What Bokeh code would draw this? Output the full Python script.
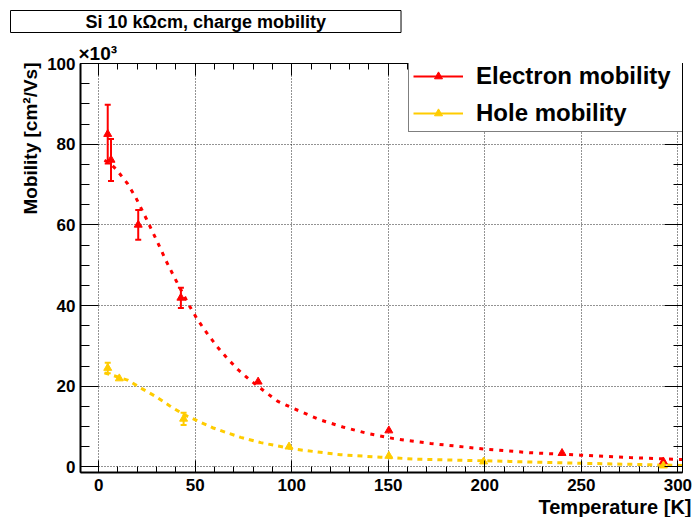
from bokeh.plotting import figure
from bokeh.models import (Range1d, SingleIntervalTicker, LinearAxis, Title, Legend,
                          LegendItem, ColumnDataSource, CustomJSTickFormatter)
from bokeh.embed import file_html
from bokeh.resources import INLINE

# ---------------- data (mobility in units of 10^3 cm^2/Vs) ----------------
temp_e = [4.7, 6.4, 20.5, 42.6, 82.6, 150.3, 240.0, 292.5]
mob_e = [82.5, 76.1, 60.0, 41.9, 21.1, 9.0, 3.4, 1.3]
err_e = [7.3, 5.2, 3.7, 2.5, 0.8, 0.4, 0.2, 0.1]

temp_h = [4.7, 10.7, 44.0, 98.6, 150.3, 199.4, 292.5]
mob_h = [24.5, 21.9, 11.9, 5.0, 2.7, 1.3, 0.3]
err_h = [1.3, 0.5, 1.5, 0.3, 0.2, 0.1, 0.1]

fit_e_t = [3, 6, 9, 15, 19.3, 24.5, 30.5, 35, 39.2, 46.9, 51.2, 56, 61.2, 66.8,
           72.2, 78.4, 85.7, 92.6, 100.3, 115, 127, 139.1, 152.9, 171.9, 200,
           223.6, 249.4, 275.3, 302.4]
fit_e_m = [76.0, 75.2, 73.8, 70.2, 66.7, 61.7, 55.7, 51.0, 47.0, 40.0, 36.5, 33.2,
           29.9, 26.8, 24.1, 21.5, 18.8, 16.3, 14.6, 11.6, 9.8, 8.3, 7.0, 5.8, 4.4,
           3.5, 2.9, 2.3, 1.8]

fit_h_t = [3, 7.3, 15, 22.4, 29.7, 36.9, 44, 50.4, 59, 66.8, 73.6, 84, 101.2,
           125.3, 146, 165, 200, 249.4, 302.4]
fit_h_m = [23.3, 22.7, 21.5, 19.4, 17.4, 15.1, 13.0, 11.6, 9.7, 8.4, 7.3, 6.0, 4.4,
           3.0, 2.4, 1.9, 1.5, 0.9, 0.35]

series_labels = ["Electron mobility", "Hole mobility"]
colors = ["#ff0000", "#ffcc00"]

# ---------------- layout ----------------
X0, X1 = -9.4, 302.4
Y0, Y1 = -1.4, 100.0
FL, FT, FW, FH = 80, 62, 602, 411
W, H = 694, 517
FONT = "Liberation Sans"

p = figure(width=W, height=H, output_backend="svg", toolbar_location=None, title=None,
           x_range=Range1d(X0, X1), y_range=Range1d(Y0, Y1),
           min_border_left=FL, min_border_right=W - FL - FW,
           min_border_top=FT, min_border_bottom=H - FT - FH,
           background_fill_color="white", border_fill_color="white")
p.outline_line_color = "black"
p.outline_line_width = 1

xt = SingleIntervalTicker(interval=50, num_minor_ticks=5)
yt = SingleIntervalTicker(interval=20, num_minor_ticks=4)

xa = p.xaxis[0]
ya = p.yaxis[0]
xa.ticker = xt
ya.ticker = yt
for ax in (xa, ya):
    ax.major_tick_out = 0
    ax.minor_tick_out = 0
    ax.axis_line_width = 2
    ax.major_tick_line_width = 1
    ax.minor_tick_line_width = 1
    ax.major_label_text_font = FONT
    ax.major_label_text_font_style = "bold"
    ax.major_label_text_font_size = "17px"
    ax.major_label_text_color = "black"
xa.major_tick_in = 12
xa.minor_tick_in = 6
xa.major_label_standoff = 6
ya.major_tick_in = 18
ya.minor_tick_in = 9
ya.major_label_standoff = 5

blank = CustomJSTickFormatter(code="return ''")
top = LinearAxis(ticker=xt, formatter=blank, major_tick_in=12, major_tick_out=0,
                 minor_tick_in=6, minor_tick_out=0, major_label_standoff=0,
                 major_label_text_font_size="0px", axis_line_width=1)
right = LinearAxis(ticker=yt, formatter=blank, major_tick_in=18, major_tick_out=0,
                   minor_tick_in=9, minor_tick_out=0, major_label_standoff=0,
                   major_label_text_font_size="0px", axis_line_width=1)
p.add_layout(top, "above")
p.add_layout(right, "right")

for g, t in ((p.xgrid, xt), (p.ygrid, yt)):
    g.ticker = t
    g.grid_line_color = "black"
    g.grid_line_dash = "1 2"
    g.grid_line_width = 1
    g.grid_line_alpha = 0.85

# ---------------- fit curves ----------------
p.line(fit_e_t, fit_e_m, line_color=colors[0], line_width=3, line_dash="4 6")
p.line(fit_h_t, fit_h_m, line_color=colors[1], line_width=3, line_dash="5 5")

# ---------------- data points with error bars ----------------
legend_items = []
for t, m, e, c, lab in ((temp_e, mob_e, err_e, colors[0], series_labels[0]),
                        (temp_h, mob_h, err_h, colors[1], series_labels[1])):
    keep = [i for i in range(len(t)) if e[i] >= 1.0]
    src_bar = ColumnDataSource(dict(
        x=[t[i] for i in keep],
        lo=[m[i] - e[i] for i in keep],
        hi=[m[i] + e[i] for i in keep]))
    seg = p.segment(x0="x", y0="lo", x1="x", y1="hi", source=src_bar,
                    line_color=c, line_width=2)
    p.scatter(x="x", y="lo", source=src_bar, marker="dash", size=6,
              line_color=c, line_width=2)
    p.scatter(x="x", y="hi", source=src_bar, marker="dash", size=6,
              line_color=c, line_width=2)
    pts = p.scatter(t, m, marker="triangle", size=8, fill_color=c, line_color=c,
                    line_width=1)
    legend_items.append(LegendItem(label=lab, renderers=[seg, pts]))

legend = Legend(items=legend_items, location=(328, 340),
                border_line_color="black", border_line_width=1,
                background_fill_color="white", background_fill_alpha=1.0,
                label_text_font=FONT, label_text_font_style="bold",
                label_text_font_size="24px", label_text_color="black",
                glyph_width=50, glyph_height=20, label_height=20,
                label_standoff=13, label_width=211,
                padding=4, spacing=9, margin=0)
p.add_layout(legend)

# ---------------- texts (side panels) ----------------
p.add_layout(Title(text="\u00d710\u00b3", align="left", offset=-2, standoff=0,
                   text_color="black", text_font=FONT, text_font_style="bold",
                   text_font_size="19px"),
             "above")
p.add_layout(Title(text="Si 10 k\u03a9cm, charge mobility", align="left", offset=-70,
                   standoff=16, text_color="black", text_font=FONT,
                   text_font_style="bold", text_font_size="18px",
                   border_line_color="black", border_line_width=1,
                   background_fill_color="white", padding=(75, 1)),
             "above")
p.add_layout(Title(text="Temperature [K]", align="right", offset=-9, standoff=0,
                   text_color="black", text_font=FONT, text_font_style="bold",
                   text_font_size="20px"),
             "below")
p.add_layout(Title(text="Mobility [cm\u00b2/Vs]", align="right", offset=-1, standoff=8,
                   text_color="black", text_font=FONT, text_font_style="bold",
                   text_font_size="19px"),
             "left")

open("out.html", "w").write(file_html(p, INLINE))
